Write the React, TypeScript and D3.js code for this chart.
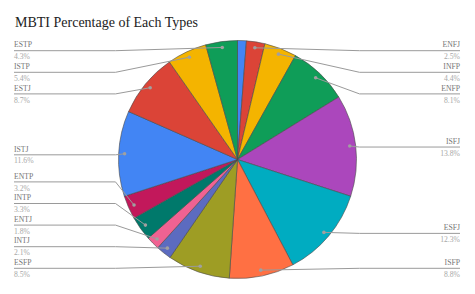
import React from "react";
import * as d3 from "d3";

const title = "MBTI Percentage of Each Types";
const types = ["INFJ", "ENFJ", "INFP", "ENFP", "ISFJ", "ESFJ", "ISFP", "ESFP", "INTJ", "ENTJ", "INTP", "ENTP", "ISTJ", "ESTJ", "ISTP", "ESTP"];
const percentages = [1.2, 2.5, 4.4, 8.1, 13.8, 12.3, 8.8, 8.5, 2.1, 1.8, 3.3, 3.2, 11.6, 8.7, 5.4, 4.3];
const showLabel = [false, true, true, true, true, true, true, true, true, true, true, true, true, true, true, true];
const colors = ["#4285F4", "#DB4437", "#F4B400", "#0F9D58", "#AB47BC", "#00ACC1", "#FF7043", "#9E9D24", "#5C6BC0", "#F06292", "#00796B", "#C2185B", "#4285F4", "#DB4437", "#F4B400", "#0F9D58"];

const W = 475;
const H = 294;
const cx = 237.5;
const cy = 159.5;
const R = 119;
const labelTop = 50.7;
const labelBottom = 268.3;
const gap = 21.6;
const leftX = 14;
const rightX = 460;
const fontFamily = "'Liberation Serif', 'Times New Roman', serif";

type Lab = { i: number; dx: number; dy: number; side: "L" | "R"; y: number };

function layout(labs: Lab[]) {
  labs.sort((a, b) => a.dy - b.dy);
  let prev = -Infinity;
  labs.forEach((l) => {
    l.y = Math.max(l.dy + 1, prev + gap, labelTop);
    prev = l.y;
  });
  let next = Infinity;
  for (let k = labs.length - 1; k >= 0; k--) {
    labs[k].y = Math.min(labs[k].y, next - gap, labelBottom);
    next = labs[k].y;
  }
}

export default function App() {
  const pie = d3.pie<number>().sort(null).value((d) => d);
  const arcs = pie(percentages);
  const arc = d3.arc<d3.PieArcDatum<number>>().innerRadius(0).outerRadius(R);
  const dotArc = d3.arc<d3.PieArcDatum<number>>().innerRadius(R * 0.95).outerRadius(R * 0.95);

  const labs: Lab[] = [];
  arcs.forEach((a, i) => {
    if (!showLabel[i]) return;
    const [x, y] = dotArc.centroid(a);
    const mid = (a.startAngle + a.endAngle) / 2;
    labs.push({ i, dx: cx + x, dy: cy + y, side: mid < Math.PI ? "R" : "L", y: 0 });
  });
  const left = labs.filter((l) => l.side === "L");
  const right = labs.filter((l) => l.side === "R");
  layout(left);
  layout(right);
  const all = [...left, ...right];

  const fmt = d3.format(".1f");

  return (
    <svg width={W} height={H} style={{ position: "absolute", left: 0, top: 0, background: "#fff" }}>
      <text x={15} y={26.5} fontFamily={fontFamily} fontSize={14} fill="#222">{title}</text>
      <g transform={`translate(${cx},${cy})`}>
        {arcs.map((a, i) => (
          <path key={i} d={arc(a) || ""} fill={colors[i]} stroke="#4a4a4a" strokeWidth={0.6} strokeLinejoin="round" />
        ))}
      </g>
      {all.map((l) => {
        const elbowX = l.side === "L" ? cx - R - 3 : cx + R + 3;
        const endX = l.side === "L" ? leftX : rightX;
        const pts: [number, number][] = [[l.dx, l.dy], [elbowX, l.y], [endX, l.y]];
        const line = d3.line()(pts) || "";
        const anchor = l.side === "L" ? "start" : "end";
        return (
          <g key={l.i}>
            <path d={line} fill="none" stroke="#9a9a9a" strokeWidth={1} />
            <circle cx={l.dx} cy={l.dy} r={1.8} fill="#a0a0a0" />
            <text x={endX} y={l.y - 3.3} textAnchor={anchor} fontFamily={fontFamily} fontSize={7.7} fill="#757575">{types[l.i]}</text>
            <text x={endX} y={l.y + 8.6} textAnchor={anchor} fontFamily={fontFamily} fontSize={7.7} fill="#a8a8a8">{fmt(percentages[l.i])}%</text>
          </g>
        );
      })}
    </svg>
  );
}
